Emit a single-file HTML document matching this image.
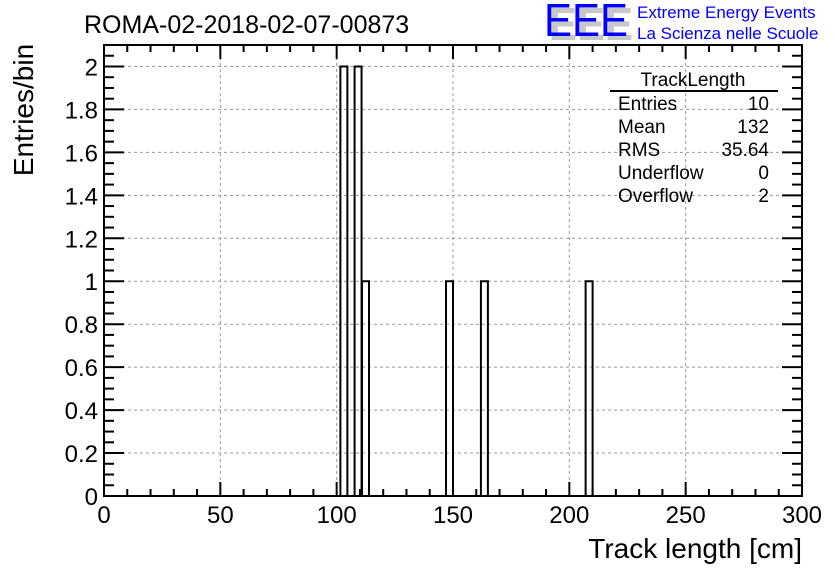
<!DOCTYPE html>
<html><head><meta charset="utf-8"><style>
body{margin:0;background:#fff;width:836px;height:572px;overflow:hidden}
svg{display:block;font-family:"Liberation Sans",sans-serif}
</style></head><body>
<svg id="c" width="836" height="572">
<text x="84" y="33" font-size="25">ROMA-02-2018-02-07-00873</text>
<g>
<text x="549" y="40" font-size="46" fill="#c8c8c8" font-weight="bold" textLength="84" lengthAdjust="spacingAndGlyphs">EEE</text>
<text x="544" y="36" font-size="46" fill="#0000ff" textLength="84" lengthAdjust="spacingAndGlyphs">EEE</text>
<text x="637" y="18" font-size="17" fill="#0000ff">Extreme Energy Events</text>
<text x="637" y="39" font-size="17" fill="#0000ff">La Scienza nelle Scuole</text>
</g>
<text transform="translate(33,110) rotate(-90)" font-size="28" text-anchor="middle">Entries/bin</text>
<text x="802" y="558" font-size="28" text-anchor="end">Track length [cm]</text>
<g id="grid"></g><g id="bars"></g><g id="axes"></g>
<g font-size="19">
<text x="693" y="86" text-anchor="middle">TrackLength</text>
<line x1="610" y1="91" x2="778" y2="91" stroke="#000" stroke-width="2"/>
<text x="618" y="110">Entries</text><text x="769" y="110" text-anchor="end">10</text>
<text x="618" y="133">Mean</text><text x="769" y="133" text-anchor="end">132</text>
<text x="618" y="156">RMS</text><text x="769" y="156" text-anchor="end">35.64</text>
<text x="618" y="179">Underflow</text><text x="769" y="179" text-anchor="end">0</text>
<text x="618" y="202">Overflow</text><text x="769" y="202" text-anchor="end">2</text>
</g>
</svg>
<script>
const binStarts=[101.6,107.7,110.9,147,162,207];
const binCounts=[2,2,1,1,1,1];
const binWidth=3;
const xTicks=[0,50,100,150,200,250,300];
const yTicks=[0,0.2,0.4,0.6,0.8,1,1.2,1.4,1.6,1.8,2];
const NS="http://www.w3.org/2000/svg";
const L=104,R=802,T=45,B=496;
const sx=v=>L+(v-0)/300*(R-L);
const sy=v=>B-v/2.1*(B-T);
function mk(p,tag,at){const e=document.createElementNS(NS,tag);for(const k in at)e.setAttribute(k,at[k]);document.getElementById(p).appendChild(e);return e;}
xTicks.forEach(v=>{if(v>0&&v<300){const e=mk('grid','line',{x1:sx(v),x2:sx(v),y1:T,y2:B,stroke:'#999','stroke-dasharray':'3,3'});

}});
yTicks.forEach(v=>{if(v>0){const e=mk('grid','line',{x1:L,x2:R,y1:sy(v),y2:sy(v),stroke:'#999','stroke-dasharray':'3,3'});

}});
binStarts.forEach((s,i)=>{const x0=sx(s),x1=sx(s+binWidth),y=sy(binCounts[i]);
const e=mk('bars','path',{d:`M${x0},${B}V${y}H${x1}V${B}`,fill:'none',stroke:'#000','stroke-width':2});

});
const f=mk('axes','rect',{x:L,y:T,width:R-L,height:B-T,fill:'none',stroke:'#000','stroke-width':2});


for(let v=0;v<=300;v+=10){const maj=v%50==0,len=maj?14:7;
mk('axes','line',{x1:sx(v),x2:sx(v),y1:B,y2:B-len,stroke:'#000','stroke-width':2});
mk('axes','line',{x1:sx(v),x2:sx(v),y1:T,y2:T+len,stroke:'#000','stroke-width':2});}
for(let i=0;i<=42;i++){const v=i*0.05,maj=i%4==0,len=maj?20:10;
mk('axes','line',{x1:L,x2:L+len,y1:sy(v),y2:sy(v),stroke:'#000','stroke-width':2});
mk('axes','line',{x1:R,x2:R-len,y1:sy(v),y2:sy(v),stroke:'#000','stroke-width':2});}
xTicks.forEach(v=>{const t=mk('axes','text',{x:sx(v),y:523,'font-size':24,'text-anchor':'middle'});t.textContent=v;

});
yTicks.forEach(v=>{const t=mk('axes','text',{x:98,y:sy(v)+9,'font-size':24,'text-anchor':'end'});t.textContent=String(+v.toFixed(1));

});
</script>
</body></html>
